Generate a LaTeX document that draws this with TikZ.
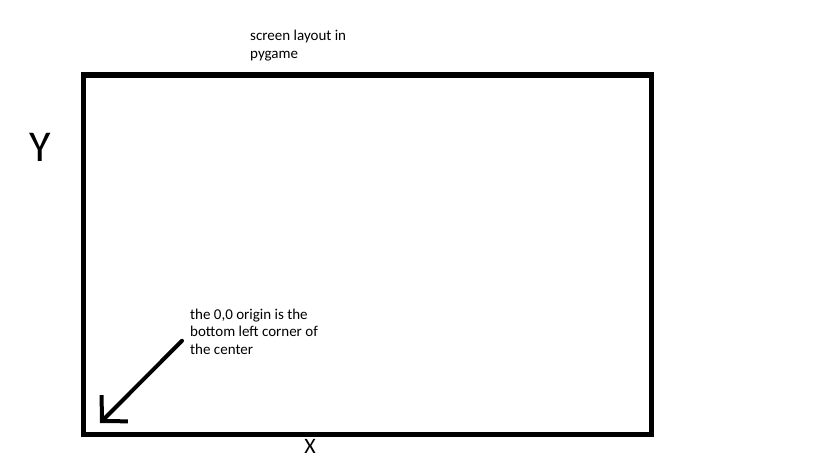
\documentclass[tikz,border=0pt]{standalone}
\usepackage{fontspec}
\setmainfont{Carlito}
\usetikzlibrary{arrows.meta}

\begin{document}
\begin{tikzpicture}[
x=1pt,y=-1pt,
screen/.style={draw=black,line width=5pt,minimum width=567.5pt,minimum height=359.5pt,inner sep=0pt,outer sep=0pt,anchor=north west},
note/.style={inner sep=0pt,anchor=north west,align=left,font=\fontsize{15}{17.8}\selectfont},
axis/.style={inner sep=0pt,font=\fontsize{44}{44}\selectfont},
arr/.style={-{Straight Barb[length=18pt,width=37pt]},line width=4pt,line cap=round,line join=round}
]
\useasboundingbox (0,0) rectangle (819,460);
\node[screen] (screen) at (83.5,75) {};
\node[note] (title) at (250,30) {screen layout in\\pygame};
\node[note] (info) at (190,308.5) {the 0,0 origin is the\\bottom left corner of\\the center};
\node[axis] (ylab) at (40,147) {Y};
\node[axis,font=\fontsize{22}{22}\selectfont] (xlab) at (310,446.5) {X};
\coordinate (origin) at (100,423);
\draw[arr] ([xshift=-8pt,yshift=-9pt]info.west) -- (origin);
\end{tikzpicture}
\end{document}
